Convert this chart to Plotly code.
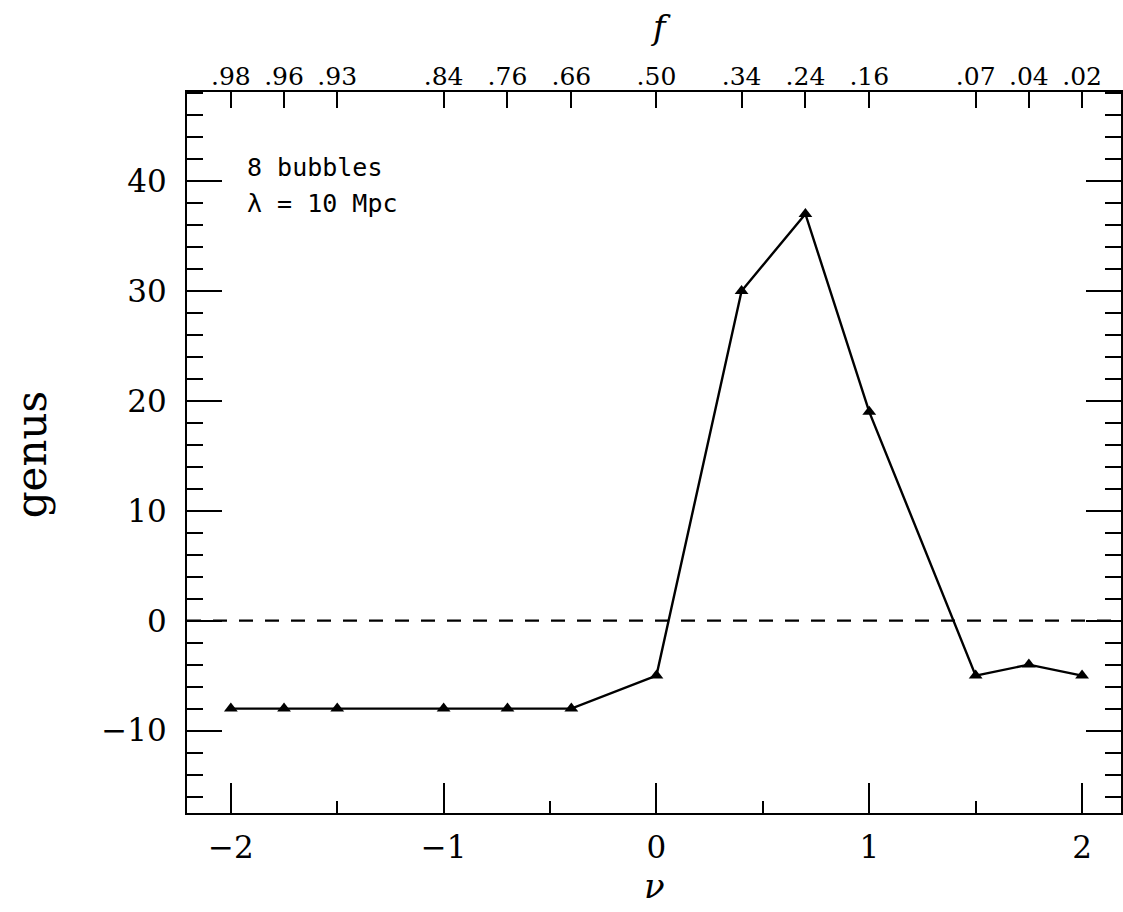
import plotly.graph_objects as go

# threshold level nu and the matching volume fraction f
nu = [-2, -1.75, -1.5, -1, -0.7, -0.4, 0, 0.4, 0.7, 1, 1.5, 1.75, 2]
f_labels = [".98", ".96", ".93", ".84", ".76", ".66", ".50",
            ".34", ".24", ".16", ".07", ".04", ".02"]
genus = [-8, -8, -8, -8, -8, -8, -5, 30, 37, 19, -5, -4, -5]

x_ticks = [-2, -1, 0, 1, 2]
x_minor = [-1.5, -0.5, 0.5, 1.5]
y_ticks = [-10, 0, 10, 20, 30, 40]

X_RANGE = [-2.206, 2.183]
Y_RANGE = [-17.5, 48.1]

SERIF = "DejaVu Serif"
MONO = "DejaVu Sans Mono"

fig = go.Figure()

# zero reference line
fig.add_trace(go.Scatter(
    x=X_RANGE, y=[0, 0], mode="lines",
    line=dict(color="black", width=2.2, dash="14px,12px"),
    hoverinfo="skip", showlegend=False,
))

# genus curve
fig.add_trace(go.Scatter(
    x=nu, y=genus, mode="lines+markers",
    line=dict(color="black", width=2.4),
    marker=dict(symbol="triangle-up", size=12, color="black"),
    showlegend=False,
))

# carrier trace for the top (f) axis
fig.add_trace(go.Scatter(
    x=nu, y=genus, xaxis="x2", mode="markers",
    marker=dict(opacity=0), hoverinfo="skip", showlegend=False,
))

fig.update_layout(
    width=1123, height=912,
    margin=dict(l=187, r=0, t=92, b=99),
    paper_bgcolor="white", plot_bgcolor="white",
    font=dict(family=SERIF, color="black"),
    xaxis=dict(
        range=X_RANGE, tickmode="array", tickvals=x_ticks,
        ticks="inside", ticklen=30, tickwidth=2, tickcolor="black",
        minor=dict(tickmode="array", tickvals=x_minor, ticks="inside",
                   ticklen=12, tickwidth=2, tickcolor="black"),
        showline=True, linewidth=2.2, linecolor="black", mirror=True,
        showgrid=False, zeroline=False,
        tickfont=dict(family=SERIF, size=31),
        ticklabelstandoff=6,
    ),
    xaxis2=dict(
        range=X_RANGE, overlaying="x", side="top", anchor="y",
        tickmode="array", tickvals=nu, ticktext=f_labels,
        ticks="inside", ticklen=16, tickwidth=2, tickcolor="black",
        showline=False, showgrid=False, zeroline=False,
        tickfont=dict(family=SERIF, size=25),
        ticklabelstandoff=1,
    ),
    yaxis=dict(
        range=Y_RANGE, tickmode="array", tickvals=y_ticks,
        ticks="inside", ticklen=35, tickwidth=2, tickcolor="black",
        minor=dict(dtick=2, tick0=0, ticks="inside", ticklen=16,
                   tickwidth=2, tickcolor="black"),
        showline=True, linewidth=2.2, linecolor="black", mirror="ticks",
        showgrid=False, zeroline=False,
        tickfont=dict(family=SERIF, size=31),
        ticklabelstandoff=12,
    ),
    annotations=[
        dict(text="8 bubbles", x=(245 - 187) / 936, y=41.2,
             xref="paper", yref="y", xanchor="left", yanchor="middle",
             showarrow=False, font=dict(family=MONO, size=25)),
        dict(text="λ = 10 Mpc", x=(245 - 187) / 936, y=38.0,
             xref="paper", yref="y", xanchor="left", yanchor="middle",
             showarrow=False, font=dict(family=MONO, size=25)),
        dict(text="<i>f</i>", x=0.02, y=(813 - 27) / 721,
             xref="x", yref="paper", xanchor="center", yanchor="middle",
             showarrow=False, font=dict(family=SERIF, size=34)),
        dict(text="<i>ν</i>", x=-0.01, y=(813 - 886) / 721,
             xref="x", yref="paper", xanchor="center", yanchor="middle",
             showarrow=False, font=dict(family=SERIF, size=34)),
        dict(text="genus", x=(31 - 187) / 936, y=(813 - 455) / 721,
             xref="paper", yref="paper", xanchor="center", yanchor="middle",
             textangle=-90, showarrow=False,
             font=dict(family=SERIF, size=42)),
    ],
)

fig.write_html("out.html")
